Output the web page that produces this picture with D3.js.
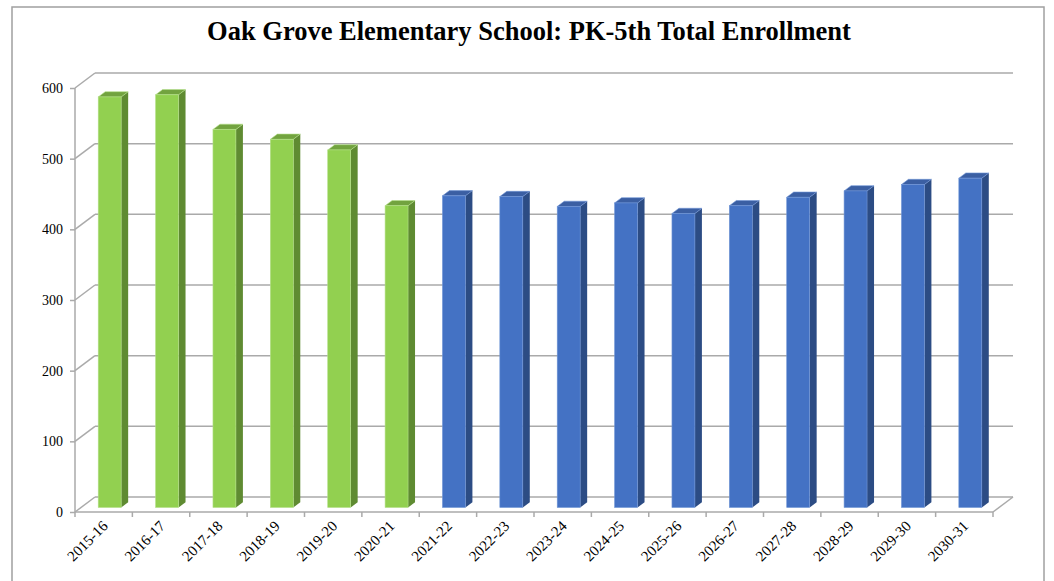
<!DOCTYPE html>
<html>
<head>
<meta charset="utf-8">
<script src="https://cdn.jsdelivr.net/npm/d3@7"></script>
<style>
  body { margin: 0; background: #fff; }
  text { font-family: "Palatino Linotype", "Book Antiqua", Palatino, "Liberation Serif", serif; }
</style>
</head>
<body>
<svg id="chart" width="1054" height="581"></svg>
<script>
// school years, first six are actual counts, the rest projected
var categories = ["2015-16","2016-17","2017-18","2018-19","2019-20","2020-21",
                  "2021-22","2022-23","2023-24","2024-25","2025-26","2026-27",
                  "2027-28","2028-29","2029-30","2030-31"];
var actual = [581, 584, 535, 521, 506, 427];
var projected = [441, 440, 426, 431, 416, 427, 439, 448, 457, 466];
var yTicks = [0, 100, 200, 300, 400, 500, 600];

var data = categories.map(function(c, i) {
    var isActual = i < actual.length;
    return {year: c, value: isActual ? actual[i] : projected[i - actual.length], actual: isActual};
});

var svg = d3.select("#chart");

// outer frame
svg.append("rect")
    .attr("x", 12).attr("y", 7)
    .attr("width", 1032).attr("height", 600)
    .attr("fill", "none")
    .attr("stroke", "#a0a0a0")
    .attr("stroke-width", 1.5);

svg.append("text")
    .attr("x", 529).attr("y", 40)
    .attr("text-anchor", "middle")
    .attr("font-weight", "bold")
    .attr("font-size", "26.5px")
    .text("Oak Grove Elementary School: PK-5th Total Enrollment");

var x = d3.scaleBand()
    .domain(categories)
    .range([75, 993])
    .padding(0);

var y = d3.scaleLinear()
    .domain([0, 600])
    .range([512, 88]);

// depth of the 3d box
var dx = 20, dy = -15;
var gridColor = "#aaaaaa";

var walls = svg.append("g").attr("stroke", gridColor).attr("stroke-width", 1.5).attr("fill", "none");

// back wall gridlines + side wall diagonals
yTicks.forEach(function(t) {
    walls.append("line")
        .attr("x1", x.range()[0] + dx).attr("y1", y(t) + dy)
        .attr("x2", x.range()[1] + dx).attr("y2", y(t) + dy);
    walls.append("line")
        .attr("x1", x.range()[0]).attr("y1", y(t))
        .attr("x2", x.range()[0] + dx).attr("y2", y(t) + dy);
});

// floor front edge and right diagonal
walls.append("line")
    .attr("x1", x.range()[0]).attr("y1", y(0))
    .attr("x2", x.range()[1]).attr("y2", y(0));
walls.append("line")
    .attr("x1", x.range()[1]).attr("y1", y(0))
    .attr("x2", x.range()[1] + dx).attr("y2", y(0) + dy);

// x tick marks at band boundaries
walls.selectAll(".xtick")
    .data(d3.range(categories.length + 1))
    .enter().append("line")
    .attr("x1", function(i) { return x.range()[0] + i * x.step(); })
    .attr("x2", function(i) { return x.range()[0] + i * x.step(); })
    .attr("y1", y(0)).attr("y2", y(0) + 5);

// y axis on the front-left edge
var yAxis = d3.axisLeft(y).tickValues(yTicks).tickSize(5).tickPadding(7);
var ya = svg.append("g")
    .attr("transform", "translate(" + x.range()[0] + ",0)")
    .call(yAxis);
ya.select(".domain").attr("stroke", gridColor).attr("stroke-width", 1.5).attr("d", "M0," + y(0) + "V" + y(600));
ya.selectAll(".tick line").attr("stroke", gridColor).attr("stroke-width", 1.5);
ya.selectAll(".tick text")
    .attr("font-family", "\"Palatino Linotype\", \"Book Antiqua\", \"Liberation Serif\", serif")
    .attr("font-size", "14px").attr("fill", "#000");

// x labels, rotated
svg.selectAll(".xlabel")
    .data(categories)
    .enter().append("text")
    .attr("class", "xlabel")
    .attr("font-size", "15px")
    .attr("text-anchor", "end")
    .attr("transform", function(d) {
        return "translate(" + (x(d) + x.bandwidth() / 2 + 5) + "," + (y(0) + 15) + ") rotate(-45)";
    })
    .text(function(d) { return d; });

// bars
var bw = x.bandwidth();
var fx = 6, fy = -4.5;       // front face offset into the depth
var bdx = 7, bdy = -5.25;    // bar depth
var colors = {
    actual: {front: "#92d050", side: "#5f8b32", top: "#72a33f", edge: "#b4e088"},
    projected: {front: "#4472c4", side: "#2c4c84", top: "#3b5fa3", edge: "#7196d6"}
};

var bars = svg.selectAll(".bar")
    .data(data)
    .enter().append("g")
    .attr("class", "bar");

function geom(d) {
    var x0 = x(d.year) + 0.3 * bw + fx,
        x1 = x0 + 0.4 * bw,
        yb = y(0) + fy,
        yt = y(d.value) + fy;
    return {x0: x0, x1: x1, yb: yb, yt: yt};
}

bars.append("path")
    .attr("fill", function(d) { return colors[d.actual ? "actual" : "projected"].side; })
    .attr("d", function(d) {
        var g = geom(d);
        return "M" + g.x1 + "," + g.yt + "L" + (g.x1 + bdx) + "," + (g.yt + bdy) +
               "L" + (g.x1 + bdx) + "," + (g.yb + bdy) + "L" + g.x1 + "," + g.yb + "Z";
    });

bars.append("path")
    .attr("fill", function(d) { return colors[d.actual ? "actual" : "projected"].top; })
    .attr("stroke", function(d) { return colors[d.actual ? "actual" : "projected"].edge; })
    .attr("stroke-width", 0.6)
    .attr("d", function(d) {
        var g = geom(d);
        return "M" + g.x0 + "," + g.yt + "L" + g.x1 + "," + g.yt +
               "L" + (g.x1 + bdx) + "," + (g.yt + bdy) + "L" + (g.x0 + bdx) + "," + (g.yt + bdy) + "Z";
    });

bars.append("rect")
    .attr("x", function(d) { return geom(d).x0; })
    .attr("y", function(d) { return geom(d).yt; })
    .attr("width", 0.4 * bw)
    .attr("height", function(d) { var g = geom(d); return g.yb - g.yt; })
    .attr("fill", function(d) { return colors[d.actual ? "actual" : "projected"].front; })
    .attr("stroke", function(d) { return colors[d.actual ? "actual" : "projected"].edge; })
    .attr("stroke-width", 0.6);
</script>
</body>
</html>
